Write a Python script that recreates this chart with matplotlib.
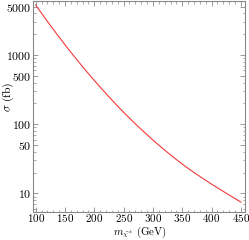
import matplotlib
matplotlib.use("Agg")
import matplotlib.pyplot as plt
from matplotlib.ticker import FixedLocator, FixedFormatter, MultipleLocator

plt.rcParams['mathtext.fontset'] = 'cm'
plt.rcParams['font.family'] = ['DejaVu Serif']

mass = [100, 110, 120, 130, 140, 150, 160, 170, 180, 190, 200, 210, 220, 230, 240,
        250, 260, 270, 280, 290, 300, 310, 320, 330, 340, 350, 360, 370, 380, 390,
        400, 410, 420, 430, 440, 450]
sigma = [5266, 4011, 3065, 2353, 1816, 1408, 1097, 860.6, 678.4, 538.3, 429.1, 343.9,
         276.8, 223.9, 181.9, 148.9, 122.4, 101.3, 84.34, 70.49, 59.19, 49.94, 42.35,
         36.07, 30.87, 26.61, 23.05, 20.10, 17.62, 15.47, 13.65, 12.08, 10.71, 9.495,
         8.44, 7.50]

xticks = [100, 150, 200, 250, 300, 350, 400, 450]
yticks = [10, 50, 100, 500, 1000, 5000]
yminor = [6, 7, 8, 9, 20, 30, 40, 60, 70, 80, 90, 200, 300, 400, 600, 700, 800, 900,
          2000, 3000, 4000]

W, H = 249, 240
fig = plt.figure(figsize=(W / 100, H / 100), dpi=100)
ax = fig.add_axes([33 / W, 1 - 212 / H, 212 / W, (212 - 1.3) / H])

ax.plot(mass, sigma, color='#f23a3a', lw=0.8)
ax.set_yscale('log')
ax.set_xlim(95.5, 457)
ax.set_ylim(5.4, 5960)

ax.xaxis.set_major_locator(FixedLocator(xticks))
ax.xaxis.set_major_formatter(FixedFormatter([r'$%d$' % v for v in xticks]))
ax.xaxis.set_minor_locator(MultipleLocator(10))
ax.yaxis.set_major_locator(FixedLocator(yticks))
ax.yaxis.set_major_formatter(FixedFormatter([r'$%d$' % v for v in yticks]))
ax.yaxis.set_minor_locator(FixedLocator(yminor))
ax.yaxis.set_minor_formatter(FixedFormatter([''] * len(yminor)))

ax.tick_params(which='both', direction='in', top=True, right=True,
               color='#888888', labelsize=8.5, pad=1.5)
ax.tick_params(axis='x', labelsize=8.0, pad=0.2)
ax.tick_params(which='major', length=3.5, width=0.6)
ax.tick_params(which='minor', length=1.8, width=0.5)
for s in ax.spines.values():
    s.set_color('#888888')
    s.set_linewidth(0.8)

fig.text(140 / W, 0.5 / H, r'$m_{\tilde{\chi}^{\pm}}\ \mathrm{(GeV)}$',
         fontsize=7.8, ha='center', va='bottom')
fig.text(8 / W, 1 - 97 / H, r'$\sigma\ \mathrm{(fb)}$', fontsize=8.5,
         ha='center', va='center', rotation=90)

fig.savefig('out.png', dpi=100)
